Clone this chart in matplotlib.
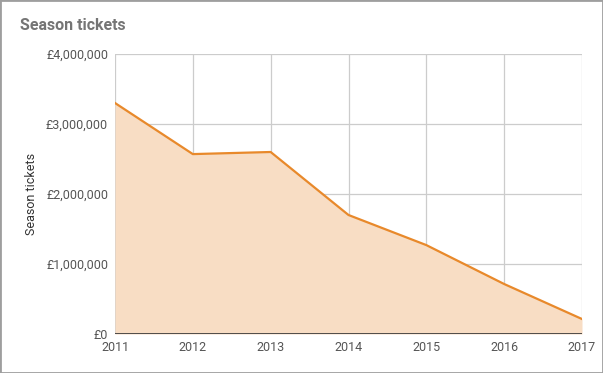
import matplotlib
matplotlib.use("Agg")
import matplotlib.pyplot as plt
from matplotlib.patches import Rectangle
from matplotlib.ticker import FuncFormatter

years = [2011, 2012, 2013, 2014, 2015, 2016, 2017]
tickets = [3300000, 2570000, 2600000, 1700000, 1270000, 714000, 214000]
yticks = [0, 1000000, 2000000, 3000000, 4000000]

plt.rcParams['font.family'] = ['Roboto', 'DejaVu Sans']

fig = plt.figure(figsize=(6.03, 3.73), dpi=100)
ax = fig.add_axes([115 / 603, 39 / 373, 467 / 603, 280 / 373])

line_col = '#e8892b'
ax.fill_between(years, tickets, 0, color='#f8ddc4', zorder=2, linewidth=0)
ax.plot(years, tickets, color=line_col, linewidth=1.6, zorder=3)
ax.axhline(0, color='#333333', linewidth=1.2, zorder=4)

ax.set_xlim(2011, 2017)
ax.set_ylim(0, 4000000)
ax.set_xticks(years)
ax.set_yticks(yticks)
ax.yaxis.set_major_formatter(FuncFormatter(lambda v, p: '£{:,.0f}'.format(v)))
ax.grid(True, color='#cccccc', linewidth=0.9, zorder=1)
ax.set_axisbelow(True)
for s in ax.spines.values():
    s.set_visible(False)
ax.tick_params(length=0, labelsize=9, colors='#555555', pad=5)
ax.tick_params(axis='x', pad=5)
ax.set_ylabel('Season tickets', fontsize=9, color='#333333', labelpad=6)

fig.text(20 / 603, 1 - 26 / 373, 'Season tickets', fontsize=11.5, fontweight='bold',
         color='#757575', va='center', ha='left')
fig.patches.append(Rectangle((0, 0), 1, 1, transform=fig.transFigure, fill=False,
                             edgecolor='#9e9e9e', linewidth=2))

fig.savefig('out.png', dpi=100)
